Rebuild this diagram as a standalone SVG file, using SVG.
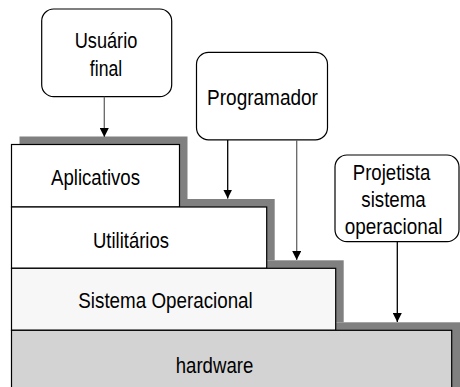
<svg xmlns="http://www.w3.org/2000/svg" width="460" height="387" viewBox="0 0 460 387">
<style>
text{font-family:"Liberation Sans",Arial,sans-serif;font-size:22px;fill:#000;text-anchor:middle}
.shadow{fill:#808080;stroke:none}
.layer{stroke:#000;stroke-width:1.2}
.actor{fill:#fff;stroke:#000;stroke-width:1.2}
.conn{fill:none;stroke-width:1.3}
</style>
<defs>
<marker id="ah" viewBox="0 0 10 10" refX="10" refY="5" markerWidth="9" markerHeight="9" markerUnits="userSpaceOnUse" orient="auto">
<path d="M0,0 L10,5 L0,10 Z" fill="#000"/>
</marker>
</defs>
<rect width="460" height="387" fill="#fff"/>
<g id="shadows">
<rect class="shadow" x="19.5" y="136.5" width="168" height="63"/>
<rect class="shadow" x="19.5" y="199" width="255.2" height="61.3"/>
<rect class="shadow" x="19.5" y="260.3" width="324.2" height="62"/>
<rect class="shadow" x="19.5" y="322.3" width="441" height="70"/>
</g>
<g id="aplicativos">
<rect class="layer" x="11.5" y="144.5" width="168" height="62.5" fill="#fff"/>
<text transform="translate(95.5,184.5) scale(0.847,1)">Aplicativos</text>
</g>
<g id="utilitarios">
<rect class="layer" x="11.5" y="207" width="255.2" height="61.3" fill="#fff"/>
<text transform="translate(131,247.7) scale(0.84,1)">Utilitários</text>
</g>
<g id="sistema-operacional">
<rect class="layer" x="11.5" y="268.3" width="324.2" height="62" fill="#f7f7f7"/>
<text transform="translate(165.5,308.3) scale(0.855,1)">Sistema Operacional</text>
</g>
<g id="hardware">
<rect class="layer" x="11.5" y="330.3" width="440.2" height="70" fill="#d3d3d3"/>
<text transform="translate(214.5,372.7) scale(0.845,1)">hardware</text>
</g>
<g id="usuario-final">
<rect class="actor" x="41.7" y="9" width="130" height="87.7" rx="12" ry="12"/>
<text transform="translate(106,48.3) scale(0.827,1)">Usuário</text>
<text transform="translate(106,75.5) scale(0.8,1)">final</text>
</g>
<g id="programador">
<rect class="actor" x="196.5" y="52.3" width="131" height="87.5" rx="12" ry="12"/>
<text transform="translate(262.5,105) scale(0.864,1)">Programador</text>
</g>
<g id="projetista">
<rect class="actor" x="335" y="155" width="124" height="86.7" rx="12" ry="12"/>
<text transform="translate(391.5,179.5) scale(0.845,1)">Projetista</text>
<text transform="translate(393.5,207) scale(0.85,1)">sistema</text>
<text transform="translate(393.5,234.3) scale(0.86,1)">operacional</text>
</g>
<g id="connectors">
<line class="conn" x1="104.3" y1="96.7" x2="104.3" y2="137" stroke="#666" marker-end="url(#ah)"/>
<line class="conn" x1="227.7" y1="140" x2="227.7" y2="198.5" stroke="#000" marker-end="url(#ah)"/>
<line class="conn" x1="296.7" y1="140" x2="296.7" y2="260" stroke="#666" marker-end="url(#ah)"/>
<line class="conn" x1="397.3" y1="241.7" x2="397.3" y2="322" stroke="#000" marker-end="url(#ah)"/>
</g>
</svg>
